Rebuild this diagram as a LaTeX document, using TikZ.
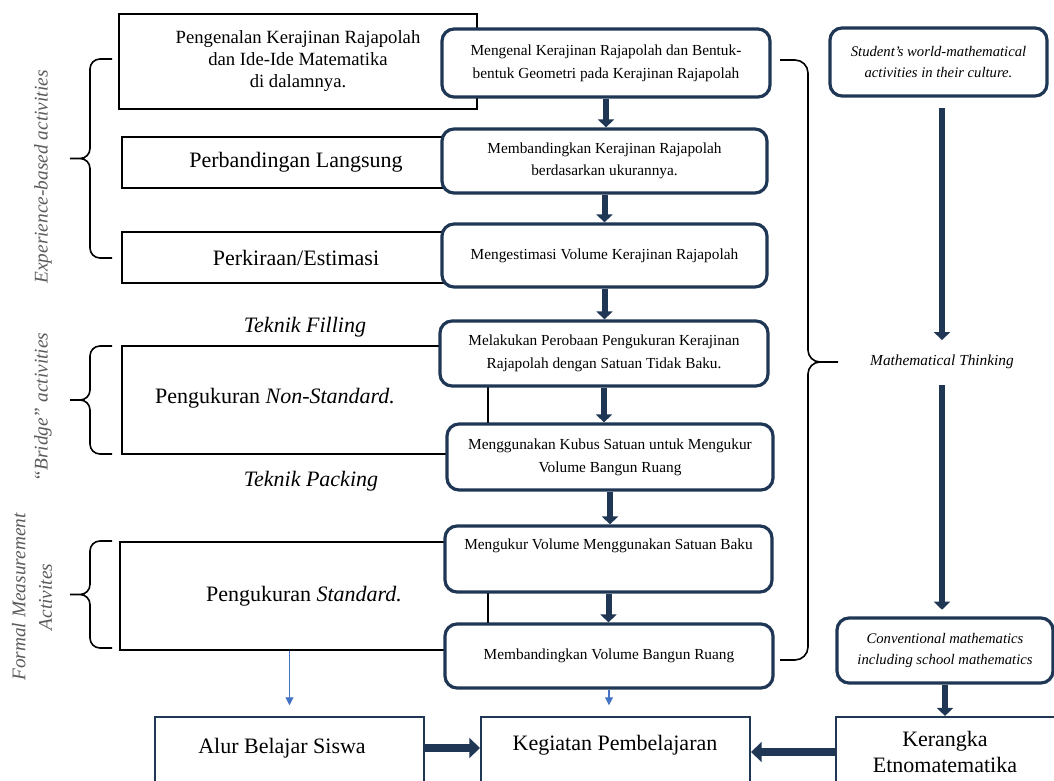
\documentclass[tikz,border=0pt]{standalone}
\usepackage{fontspec}
\setmainfont{Liberation Serif}
\usetikzlibrary{arrows.meta}
\definecolor{navy}{RGB}{31,55,85}
\definecolor{lineblue}{RGB}{68,114,196}
\definecolor{sidegray}{RGB}{90,90,90}
\tikzset{boxsize/.style 2 args={minimum width=#1*0.75pt,minimum height=#2*0.75pt}}
\newcommand\sidebrace[2]{%
\draw[bracket] (112,#1) -- (100,#1) to[out=180,in=90] (90,#1+10) -- (90,{(#1+#2)/2-10}) to[out=-90,in=0] (80,{(#1+#2)/2}) -- (70,{(#1+#2)/2}) (80,{(#1+#2)/2}) to[out=0,in=90] (90,{(#1+#2)/2+10}) -- (90,#2-10) to[out=-90,in=180] (100,#2) -- (112,#2);}

\begin{document}
\begin{tikzpicture}[x=0.75pt,y=-0.75pt]
\tikzstyle{every node}+=[inner sep=0pt]
\tikzstyle{leftbox}=[draw=black,line width=0.8pt,fill=white,align=center,font=\fontsize{16.5}{20}\selectfont]
\tikzstyle{stepbox}=[draw=navy,line width=2.4pt,rounded corners=9pt,fill=white,align=center,font=\fontsize{11.5}{17}\selectfont]
\tikzstyle{mathbox}=[stepbox,font=\fontsize{11}{16}\selectfont\itshape]
\tikzstyle{endbox}=[draw=navy,line width=1.6pt]
\tikzstyle{bigtext}=[font=\fontsize{16.5}{19}\selectfont,align=center]
\tikzstyle{sidetext}=[rotate=90,text=sidegray,font=\fontsize{14.5}{20}\selectfont\itshape,align=center]
\tikzstyle{navyarrow}=[draw=navy,line width=4.5pt,-{Triangle[length=6pt,width=12pt]}]
\tikzstyle{widearrow}=[draw=navy,line width=6pt,-{Triangle[length=8pt,width=15pt]}]
\tikzstyle{bluearrow}=[draw=lineblue,line width=0.8pt,-{Triangle[length=6pt,width=6pt]}]
\tikzstyle{bracket}=[draw=black,line width=1.2pt]
\useasboundingbox (0,0) rectangle (1054,781);
\node[leftbox,boxsize={358}{95},font=\fontsize{14}{16.5}\selectfont] (intro) at (298,61.5) {Pengenalan Kerajinan Rajapolah\\dan Ide-Ide Matematika\\di dalamnya.};
\node[leftbox,boxsize={348}{51}] (langsung) at (296,162.5) {Perbandingan Langsung};
\node[leftbox,boxsize={348}{51}] (kira) at (296,257.5) {Perkiraan/Estimasi};
\node[leftbox,boxsize={366}{108}] (nonstd) at (305,400) {};
\node[bigtext] (nonstdtxt) at (275,398) {Pengukuran \textit{Non-Standard.}};
\node[leftbox,boxsize={368}{108}] (std) at (304,596) {Pengukuran \textit{Standard.}};
\node[stepbox,boxsize={328}{68}] (kenal) at (606,63) {Mengenal Kerajinan Rajapolah dan Bentuk-\\bentuk Geometri pada Kerajinan Rajapolah};
\node[stepbox,boxsize={325}{64}] (banding) at (604.5,161) {Membandingkan Kerajinan Rajapolah\\berdasarkan ukurannya.};
\node[stepbox,boxsize={325}{63}] (estimasi) at (604.5,255.5) {Mengestimasi Volume Kerajinan Rajapolah};
\node[stepbox,boxsize={328}{65}] (coba) at (604,353.5) {Melakukan Perobaan Pengukuran Kerajinan\\Rajapolah dengan Satuan Tidak Baku.};
\node[stepbox,boxsize={326}{66}] (kubus) at (610,457) {Menggunakan Kubus Satuan untuk Mengukur\\Volume Bangun Ruang};
\node[stepbox,boxsize={327}{66}] (ukur) at (608.5,559) {Mengukur Volume Menggunakan Satuan Baku\\\strut};
\node[stepbox,boxsize={328}{64}] (volume) at (609,656) {Membandingkan Volume Bangun Ruang};
\node[mathbox,boxsize={217}{68}] (dunia) at (938.5,62) {Student's world-mathematical\\activities in their culture.};
\node[font=\fontsize{11.5}{14}\selectfont\itshape] (mathink) at (942,362) {Mathematical Thinking};
\node[mathbox,boxsize={216}{65}] (konvensi) at (945,650.5) {Conventional mathematics\\including school mathematics};
\node[endbox,boxsize={269}{83}] (alur) at (289.5,758.5) {};
\node[bigtext] (alurtxt) at (282,748) {Alur Belajar Siswa};
\node[endbox,boxsize={269}{83}] (kegiatan) at (615.5,758.5) {};
\node[bigtext] (kegiatantxt) at (615,745) {Kegiatan Pembelajaran};
\node[endbox,boxsize={234}{83}] (kerangka) at (953,758.5) {};
\node[bigtext] (kerangkatxt) at (945,752) {Kerangka\\Etnomatematika};
\node[font=\fontsize{16.5}{20}\selectfont\itshape] (filling) at (305,327) {Teknik Filling};
\node[font=\fontsize{16.5}{20}\selectfont\itshape] (packing) at (311,481) {Teknik Packing};
\node[sidetext] (exptxt) at (43,177) {Experience-based activities};
\node[sidetext] (bridgetxt) at (43,407) {``Bridge'' activities};
\node[sidetext] (formaltxt) at (32,597) {Formal Measurement\\Activites};
\draw[navyarrow] (kenal.south) -- (kenal.south |- banding.north);
\draw[navyarrow] (banding.south) -- (banding.south |- estimasi.north);
\draw[navyarrow] (estimasi.south) -- (estimasi.south |- coba.north);
\draw[navyarrow] (coba.south) -- (coba.south |- kubus.north);
\draw[navyarrow] (kubus.south) -- (kubus.south |- ukur.north);
\draw[navyarrow] (ukur.south) -- (ukur.south |- volume.north);
\draw[navyarrow,shorten <=8pt,shorten >=11pt] (mathink.north |- dunia.south) -- (mathink.north);
\draw[navyarrow,shorten <=12pt,shorten >=5pt] (mathink.south) -- (mathink.south |- konvensi.north);
\draw[navyarrow] (konvensi.south) -- (konvensi.south |- kerangka.north);
\draw[widearrow] (alur.east |- alurtxt) -- (kegiatan.west |- alurtxt);
\draw[widearrow] (kerangka.west |- kerangkatxt) -- (kegiatan.east |- kerangkatxt);
\draw[bluearrow,shorten >=8pt] (alur.north |- std.south) -- (alur.north);
\draw[bluearrow,shorten >=8pt] (volume.south) -- (volume.south |- kegiatan.north);
\sidebrace{59}{258}
\sidebrace{346}{454}
\sidebrace{541}{648}
\draw[bracket] (780,60) -- (795,60) to[out=0,in=90] (808,73) -- (808,350) to[out=-90,in=180] (820,362) -- (838,362) (820,362) to[out=180,in=90] (808,374) -- (808,647) to[out=-90,in=0] (795,660) -- (780,660);
\end{tikzpicture}
\end{document}
